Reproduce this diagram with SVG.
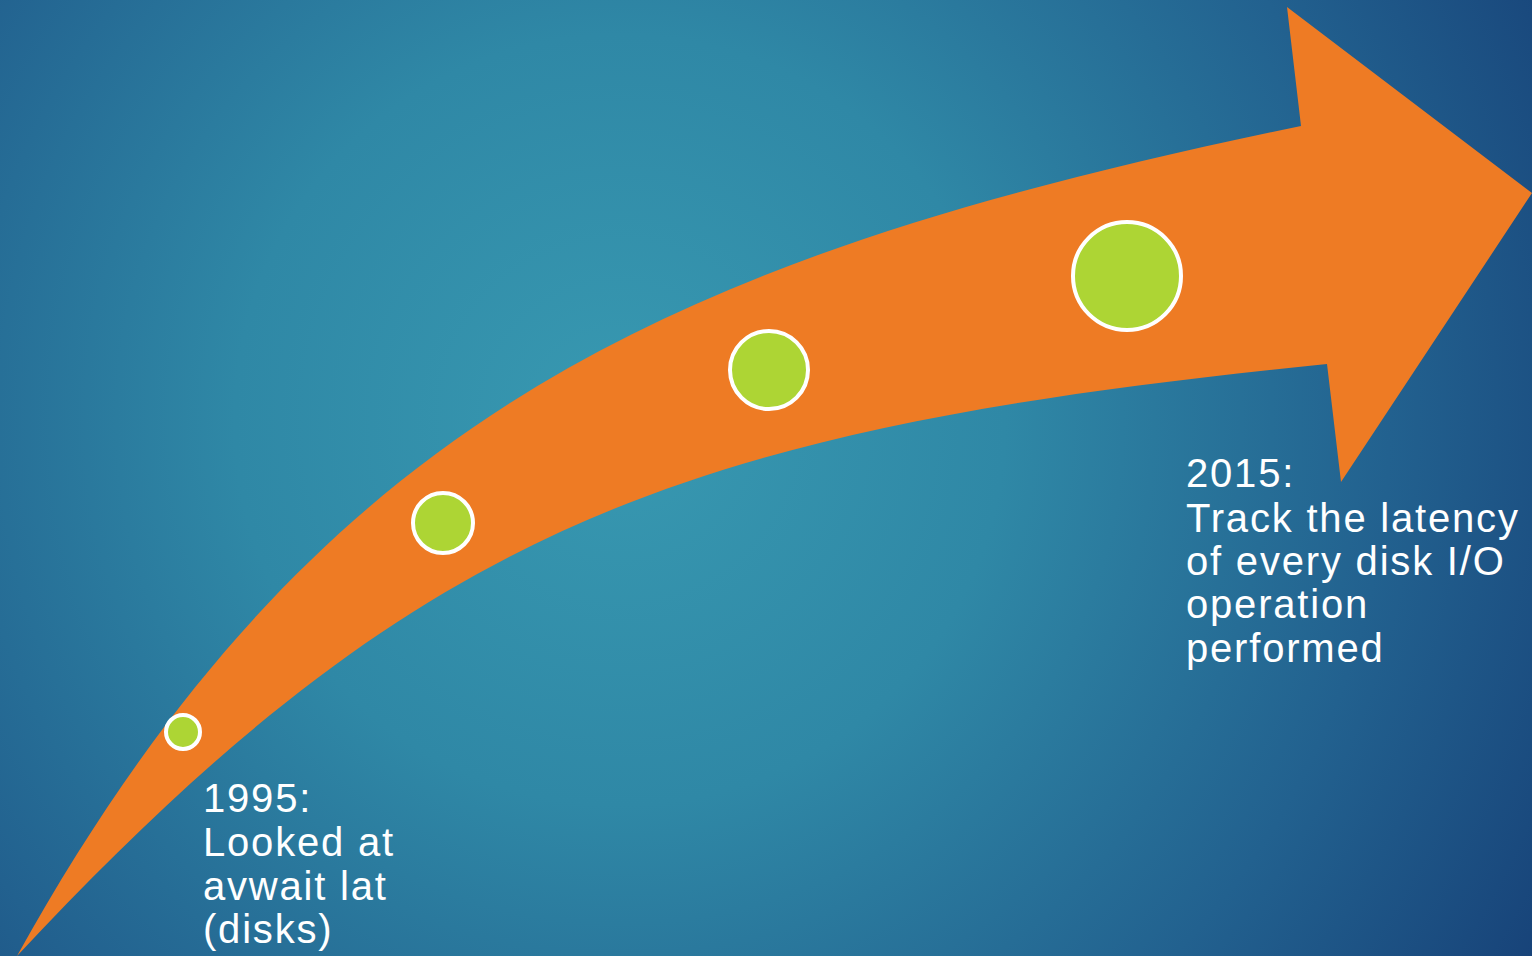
<svg xmlns="http://www.w3.org/2000/svg" width="1532" height="956" viewBox="0 0 1532 956">
<defs>
<radialGradient id="bg" gradientUnits="userSpaceOnUse" cx="620" cy="420" r="1100">
<stop offset="0" stop-color="#3899b1"/>
<stop offset="0.35" stop-color="#2f88a6"/>
<stop offset="0.7" stop-color="#22618f"/>
<stop offset="1" stop-color="#163f76"/>
</radialGradient>
<style>
.dot{fill:#add534;stroke:#ffffff;stroke-width:4}
.lbl{font-family:"Liberation Sans",Arial,sans-serif;font-size:40px;fill:#ffffff;letter-spacing:1.8px}
</style>
</defs>
<rect width="1532" height="956" fill="url(#bg)"/>
<g id="arrow">
<path d="M17,956 C320,410 680,255 1301,126 L1287,7 L1532,193 L1341,482 L1327,364 C677,429 417,528 17,956 Z" fill="#ee7b24"/>
</g>
<g id="dot1"><circle class="dot" cx="183" cy="732" r="17"/></g>
<g id="dot2"><circle class="dot" cx="443" cy="523" r="30"/></g>
<g id="dot3"><circle class="dot" cx="769" cy="370" r="39"/></g>
<g id="dot4"><circle class="dot" cx="1127" cy="276" r="54"/></g>
<g id="label1995">
<text class="lbl" x="203" y="812">1995:</text>
<text class="lbl" x="203" y="856">Looked at</text>
<text class="lbl" x="203" y="900">avwait lat</text>
<text class="lbl" x="203" y="943">(disks)</text>
</g>
<g id="label2015">
<text class="lbl" x="1186" y="487">2015:</text>
<text class="lbl" x="1186" y="532">Track the latency</text>
<text class="lbl" x="1186" y="575">of every disk I/O</text>
<text class="lbl" x="1186" y="618">operation</text>
<text class="lbl" x="1186" y="662">performed</text>
</g>
<g id="connectors"/>
</svg>
